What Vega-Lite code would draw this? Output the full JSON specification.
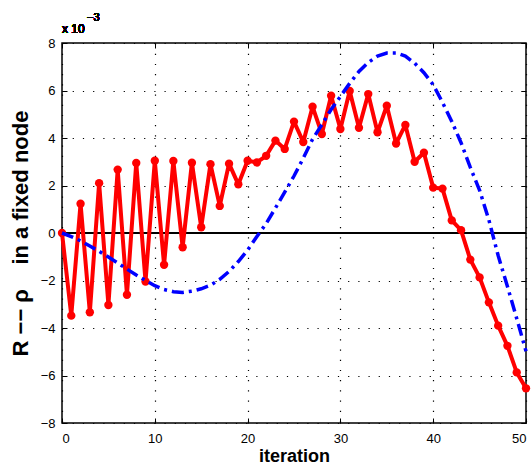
{
  "$schema": "https://vega.github.io/schema/vega-lite/v6.json",
  "autosize": "none",
  "width": 464,
  "height": 380,
  "padding": {"left": 62, "top": 43, "right": 5, "bottom": 47},
  "background": "white",
  "view": {"stroke": "black", "strokeWidth": 1.5},
  "config": {
    "axis": {
      "labelFont": "Liberation Sans",
      "labelFontSize": 13,
      "labelColor": "black",
      "titleFont": "Liberation Sans",
      "titleFontWeight": "bold",
      "titleColor": "black",
      "tickColor": "black",
      "tickSize": -5,
      "domain": false
    }
  },
  "data": {
    "values": [
      {"iteration": 0, "red": 0, "blue": 0},
      {"iteration": 1, "red": -0.00348, "blue": -0.00015},
      {"iteration": 2, "red": 0.00123, "blue": -0.00033},
      {"iteration": 3, "red": -0.00334, "blue": -0.00055},
      {"iteration": 4, "red": 0.0021, "blue": -0.00077},
      {"iteration": 5, "red": -0.00303, "blue": -0.00101},
      {"iteration": 6, "red": 0.00267, "blue": -0.00126},
      {"iteration": 7, "red": -0.0026, "blue": -0.00152},
      {"iteration": 8, "red": 0.00295, "blue": -0.00177},
      {"iteration": 9, "red": -0.00204, "blue": -0.002},
      {"iteration": 10, "red": 0.00304, "blue": -0.00222},
      {"iteration": 11, "red": -0.00134, "blue": -0.00238},
      {"iteration": 12, "red": 0.00303, "blue": -0.00247},
      {"iteration": 13, "red": -0.0006, "blue": -0.0025},
      {"iteration": 14, "red": 0.00296, "blue": -0.00245},
      {"iteration": 15, "red": 0.00024, "blue": -0.00235},
      {"iteration": 16, "red": 0.0029, "blue": -0.0022},
      {"iteration": 17, "red": 0.00114, "blue": -0.00195},
      {"iteration": 18, "red": 0.00292, "blue": -0.00162},
      {"iteration": 19, "red": 0.00205, "blue": -0.0012},
      {"iteration": 20, "red": 0.00304, "blue": -0.00072},
      {"iteration": 21, "red": 0.00297, "blue": -0.00015},
      {"iteration": 22, "red": 0.00325, "blue": 0.0004},
      {"iteration": 23, "red": 0.00389, "blue": 0.00105},
      {"iteration": 24, "red": 0.00354, "blue": 0.00172},
      {"iteration": 25, "red": 0.00469, "blue": 0.0024},
      {"iteration": 26, "red": 0.00383, "blue": 0.00315},
      {"iteration": 27, "red": 0.00532, "blue": 0.00395},
      {"iteration": 28, "red": 0.00417, "blue": 0.00456},
      {"iteration": 29, "red": 0.00578, "blue": 0.0052},
      {"iteration": 30, "red": 0.00438, "blue": 0.00575},
      {"iteration": 31, "red": 0.00598, "blue": 0.0063},
      {"iteration": 32, "red": 0.00443, "blue": 0.0068},
      {"iteration": 33, "red": 0.00585, "blue": 0.00718},
      {"iteration": 34, "red": 0.00424, "blue": 0.00745},
      {"iteration": 35, "red": 0.00536, "blue": 0.00758},
      {"iteration": 36, "red": 0.00377, "blue": 0.00758},
      {"iteration": 37, "red": 0.00455, "blue": 0.00745},
      {"iteration": 38, "red": 0.003, "blue": 0.00715},
      {"iteration": 39, "red": 0.00338, "blue": 0.00675},
      {"iteration": 40, "red": 0.00191, "blue": 0.00624},
      {"iteration": 41, "red": 0.00187, "blue": 0.0055},
      {"iteration": 42, "red": 0.00053, "blue": 0.0047},
      {"iteration": 43, "red": 0.00012, "blue": 0.0038},
      {"iteration": 44, "red": -0.00112, "blue": 0.00276},
      {"iteration": 45, "red": -0.00187, "blue": 0.0018},
      {"iteration": 46, "red": -0.00292, "blue": 0.00055},
      {"iteration": 47, "red": -0.0039, "blue": -0.00095},
      {"iteration": 48, "red": -0.00475, "blue": -0.00225},
      {"iteration": 49, "red": -0.00587, "blue": -0.0036},
      {"iteration": 50, "red": -0.00654, "blue": -0.00498}
    ]
  },
  "layer": [
    {
      "mark": {"type": "point", "opacity": 0},
      "encoding": {
        "x": {"field": "iteration", "type": "quantitative",
              "scale": {"domain": [0, 50], "nice": false},
              "axis": {"orient": "top", "labels": false, "grid": false, "title": null, "values": [0, 10, 20, 30, 40, 50]}},
        "y": {"field": "red", "type": "quantitative",
              "scale": {"domain": [-0.008, 0.008], "nice": false},
              "axis": {"orient": "right", "labels": false, "grid": false, "title": null,
                       "values": [-0.008, -0.006, -0.004, -0.002, 0, 0.002, 0.004, 0.006, 0.008]}}
      }
    },
    {
      "layer": [
        {
          "mark": {"type": "rule", "color": "black", "strokeWidth": 1},
          "encoding": {"y": {"datum": 0}}
        },
        {
          "mark": {"type": "line", "color": "#ff0000", "strokeWidth": 4, "strokeJoin": "round",
                   "point": {"filled": true, "color": "#ff0000", "size": 70, "opacity": 1}},
          "encoding": {
            "x": {"field": "iteration", "type": "quantitative",
                  "scale": {"domain": [0, 50], "nice": false},
                  "axis": {"orient": "bottom", "title": "iteration", "titleFontSize": 18,
                           "values": [0, 10, 20, 30, 40, 50], "labelPadding": 14, "titlePadding": 2,
                           "grid": true, "gridColor": "black", "gridDash": [1.2, 9], "gridWidth": 1.2, "gridOpacity": 1}},
            "y": {"field": "red", "type": "quantitative",
                  "scale": {"domain": [-0.008, 0.008], "nice": false},
                  "axis": {"orient": "left", "title": "R −− ρ\u00a0\u00a0\u00a0 in a fixed node", "titleFontSize": 22,
                           "values": [-0.008, -0.006, -0.004, -0.002, 0, 0.002, 0.004, 0.006, 0.008],
                           "labelExpr": "format(datum.value * 1000, '.0f')",
                           "labelPadding": 12, "titlePadding": 8,
                           "grid": true, "gridColor": "black", "gridDash": [1.2, 9], "gridWidth": 1.2, "gridOpacity": 1}}
          }
        },
        {
          "mark": {"type": "line", "color": "#0000ff", "strokeWidth": 3.5, "strokeDash": [12, 5, 3, 5]},
          "encoding": {
            "x": {"field": "iteration", "type": "quantitative"},
            "y": {"field": "blue", "type": "quantitative"}
          }
        },
        {
          "mark": {"type": "text", "text": "x 10", "font": "Liberation Sans", "fontSize": 12, "fontWeight": "normal", "align": "left", "baseline": "alphabetic", "dy": -10, "color": "black"},
          "encoding": {"x": {"datum": 0}, "y": {"datum": 0.008}}
        },
        {
          "mark": {"type": "text", "text": "−3", "font": "Liberation Sans", "fontSize": 11, "fontWeight": "normal", "align": "left", "baseline": "alphabetic", "dx": 25, "dy": -22, "color": "black"},
          "encoding": {"x": {"datum": 0}, "y": {"datum": 0.008}}
        }
      ]
    }
  ],
  "resolve": {"axis": {"x": "independent", "y": "independent"}}
}
